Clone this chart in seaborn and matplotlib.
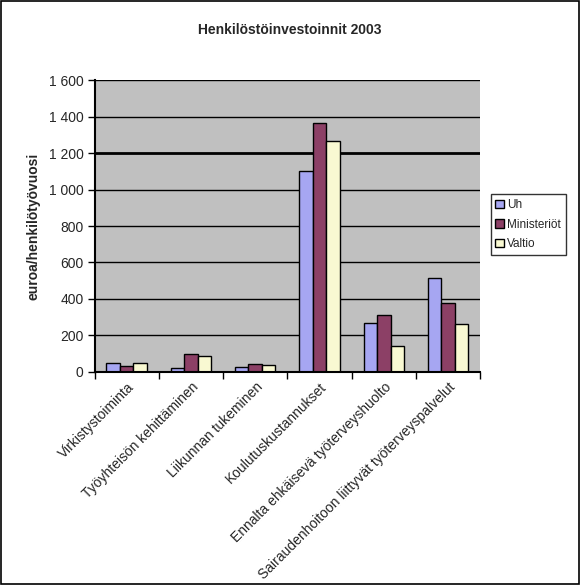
import pandas as pd
import numpy as np
import matplotlib
matplotlib.use("Agg")
import matplotlib.pyplot as plt
import seaborn as sns
from matplotlib.ticker import FuncFormatter, FixedLocator

# Chart data
categories = [
    "Virkistystoiminta",
    "Työyhteisön kehittäminen",
    "Liikunnan tukeminen",
    "Koulutuskustannukset",
    "Ennalta ehkäisevä työterveyshuolto",
    "Sairaudenhoitoon liittyvät työterveyspalvelut",
]
series_names = ["Uh", "Ministeriöt", "Valtio"]
uh = [46, 18, 24, 1103, 270, 512]
ministeriot = [33, 100, 40, 1366, 309, 375]
valtio = [46, 84, 35, 1268, 139, 260]
y_ticks = [0, 200, 400, 600, 800, 1000, 1200, 1400, 1600]

colors = ["#9999FF", "#993366", "#FFFFCC"]

rows = []
for name, vals in zip(series_names, [uh, ministeriot, valtio]):
    for cat, v in zip(categories, vals):
        rows.append({"kategoria": cat, "sarja": name, "arvo": v})
df = pd.DataFrame(rows)

sns.set_style("white")
plt.rcParams["font.family"] = ["Liberation Sans", "DejaVu Sans"]

fig = plt.figure(figsize=(5.8, 5.85), dpi=100)
ax = fig.add_axes([0.163, 0.3646, 0.665, 0.498])

sns.barplot(data=df, x="kategoria", y="arvo", hue="sarja", order=categories,
            hue_order=series_names, palette=colors, width=0.63, gap=0,
            edgecolor="black", linewidth=1, ax=ax, legend=True)

ax.set_facecolor("#C0C0C0")
ax.set_ylim(0, 1600)
ax.set_xlim(-0.5, len(categories) - 0.5)
ax.yaxis.set_major_locator(FixedLocator(y_ticks))
ax.yaxis.set_major_formatter(FuncFormatter(lambda v, p: f"{int(v):,}".replace(",", " ")))
ax.grid(axis="y", color="black", linewidth=1)
ax.set_axisbelow(True)
# the 1 200 line is drawn heavier in the original
gl = ax.get_ygridlines()
gl[y_ticks.index(1200)].set_linewidth(2)

for s in ["top", "right"]:
    ax.spines[s].set_visible(False)
for s in ["left", "bottom"]:
    ax.spines[s].set_color("black")
    ax.spines[s].set_linewidth(1.5)

ax.tick_params(axis="y", which="major", direction="out", length=5, width=1,
               color="black", labelsize=10, pad=3, left=True)
# category tick marks sit between the groups
ax.xaxis.set_minor_locator(FixedLocator(np.arange(-0.5, len(categories), 1.0)))
ax.tick_params(axis="x", which="minor", direction="out", length=5, width=1,
               color="black", bottom=True)
ax.tick_params(axis="x", which="major", length=0, labelsize=10, pad=6)
ax.set_xticks(range(len(categories)))
ax.set_xticklabels(categories, rotation=45, ha="right", rotation_mode="anchor")

ax.set_xlabel("")
ax.set_ylabel("euroa/henkilötyövuosi", fontsize=10, fontweight="bold", labelpad=6)
fig.text(0.5, 0.948, "Henkilöstöinvestoinnit 2003", ha="center", va="center",
         fontsize=10, fontweight="bold")

handles, labels = ax.get_legend_handles_labels()
ax.get_legend().remove()
leg = fig.legend(handles, labels, loc="upper left", bbox_to_anchor=(0.846, 0.668),
                 frameon=True, fancybox=False, edgecolor="black", fontsize=8.5,
                 handlelength=0.7, handleheight=0.7, handletextpad=0.3,
                 borderpad=0.4, labelspacing=0.65, borderaxespad=0)
leg.get_frame().set_linewidth(1)

# outer border of the chart area
fig.patches.append(plt.Rectangle((0.001, 0.001), 0.997, 0.997, transform=fig.transFigure,
                                 fill=False, edgecolor="black", linewidth=1.2))

fig.savefig("out.png", dpi=100, facecolor="white")
